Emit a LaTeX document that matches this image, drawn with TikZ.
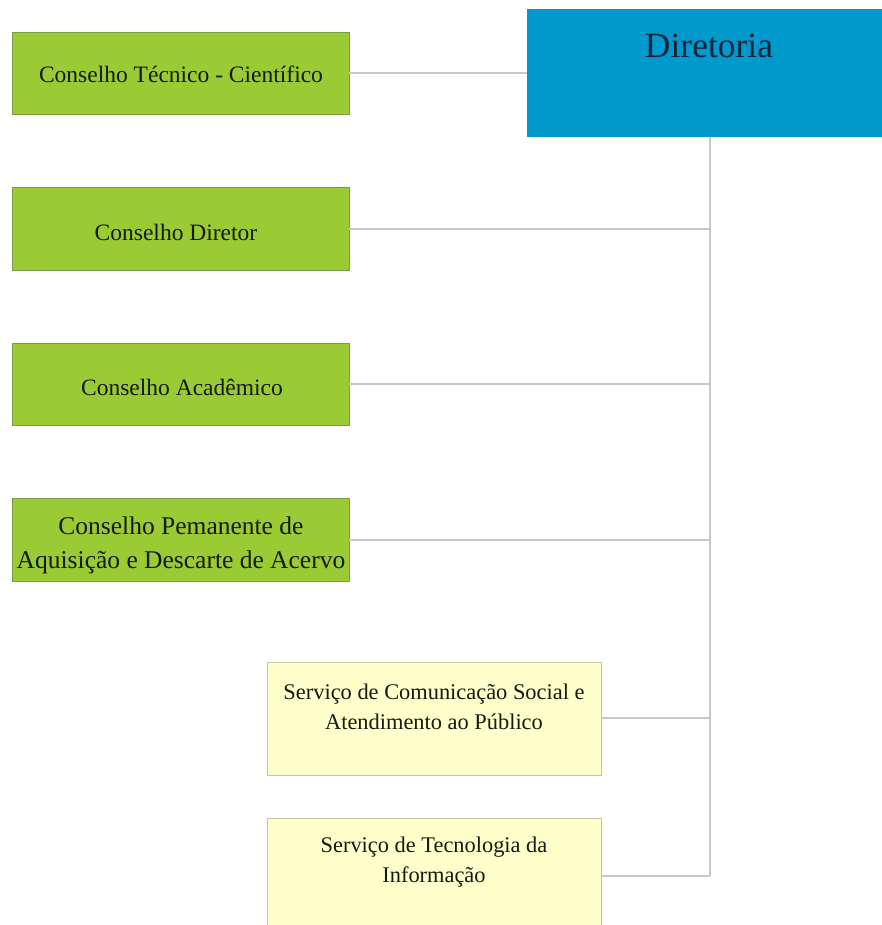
\documentclass[tikz,border=0pt]{standalone}
\usepackage{fontspec}
\setmainfont{Liberation Serif}
\definecolor{cgreen}{HTML}{9ACB34}
\definecolor{cgreenb}{HTML}{7E9A45}
\definecolor{cblue}{HTML}{0099CC}
\definecolor{cyell}{HTML}{FFFFCC}
\definecolor{cyellb}{HTML}{C8C4A0}
\definecolor{cline}{HTML}{C8C8C8}
\definecolor{ctext}{HTML}{141A0C}
\definecolor{cnavy}{HTML}{14243C}
\begin{document}
\begin{tikzpicture}[x=1pt,y=-1pt,
  gbox/.style={draw=cgreenb,line width=0.8pt,fill=cgreen},
  ybox/.style={draw=cyellb,line width=0.8pt,fill=cyell},
  lbl/.style={text=ctext,font=\fontsize{23.5}{30}\selectfont,align=center,inner sep=0pt},
  ylbl/.style={text=ctext,font=\fontsize{22.4}{29.5}\selectfont,align=center,inner sep=0pt},
  conn/.style={draw=cline,line width=1.6pt}]
\useasboundingbox[fill=white] (0,0) rectangle (882,925);
% boxes
\path[gbox] (12,32) rectangle (349,114);
\node[lbl] (g1) at (181,74) {Conselho Técnico - Científico};
\path[fill=cblue] (527,9) rectangle (882,137);
\node[text=cnavy,font=\fontsize{35.5}{40}\selectfont,inner sep=0pt] (dir) at (709,46) {Diretoria};
\coordinate (dirL) at (527,73);
\coordinate (dirB) at (710,137);
\path[gbox] (12,187) rectangle (349,270);
\node[lbl] (g2) at (176,232) {Conselho Diretor};
\path[gbox] (12,343) rectangle (349,425);
\node[lbl] (g3) at (182,387) {Conselho Acadêmico};
\path[gbox] (12,498) rectangle (349,581);
\node[lbl,font=\fontsize{25.5}{34}\selectfont] (g4) at (181,545) {Conselho Pemanente de\\Aquisição e Descarte de Acervo};
\path[ybox] (267,662) rectangle (601,775);
\node[ylbl] (y1) at (434,707) {Serviço de Comunicação Social e\\Atendimento ao Público};
\path[ybox] (267,818) rectangle (601,930);
\node[ylbl] (y2) at (434,862) {Serviço de Tecnologia da\\Informação};
% connection points
\coordinate (g1r) at (349,73);
\coordinate (g2r) at (349,229);
\coordinate (g3r) at (349,384);
\coordinate (g4r) at (349,540);
\coordinate (y1r) at (601,718);
\coordinate (y2r) at (601,876);
\coordinate (v2) at (710,229);
\coordinate (v3) at (710,384);
\coordinate (v4) at (710,540);
\coordinate (v5) at (710,718);
\coordinate (v6) at (710,876);
% connectors
\draw[conn] (g1r) -- (dirL);
\draw[conn] (dirB) -- (v6);
\draw[conn] (g2r) -- (v2);
\draw[conn] (g3r) -- (v3);
\draw[conn] (g4r) -- (v4);
\draw[conn] (y1r) -- (v5);
\draw[conn] (y2r) -- (v6);
\end{tikzpicture}
\end{document}
